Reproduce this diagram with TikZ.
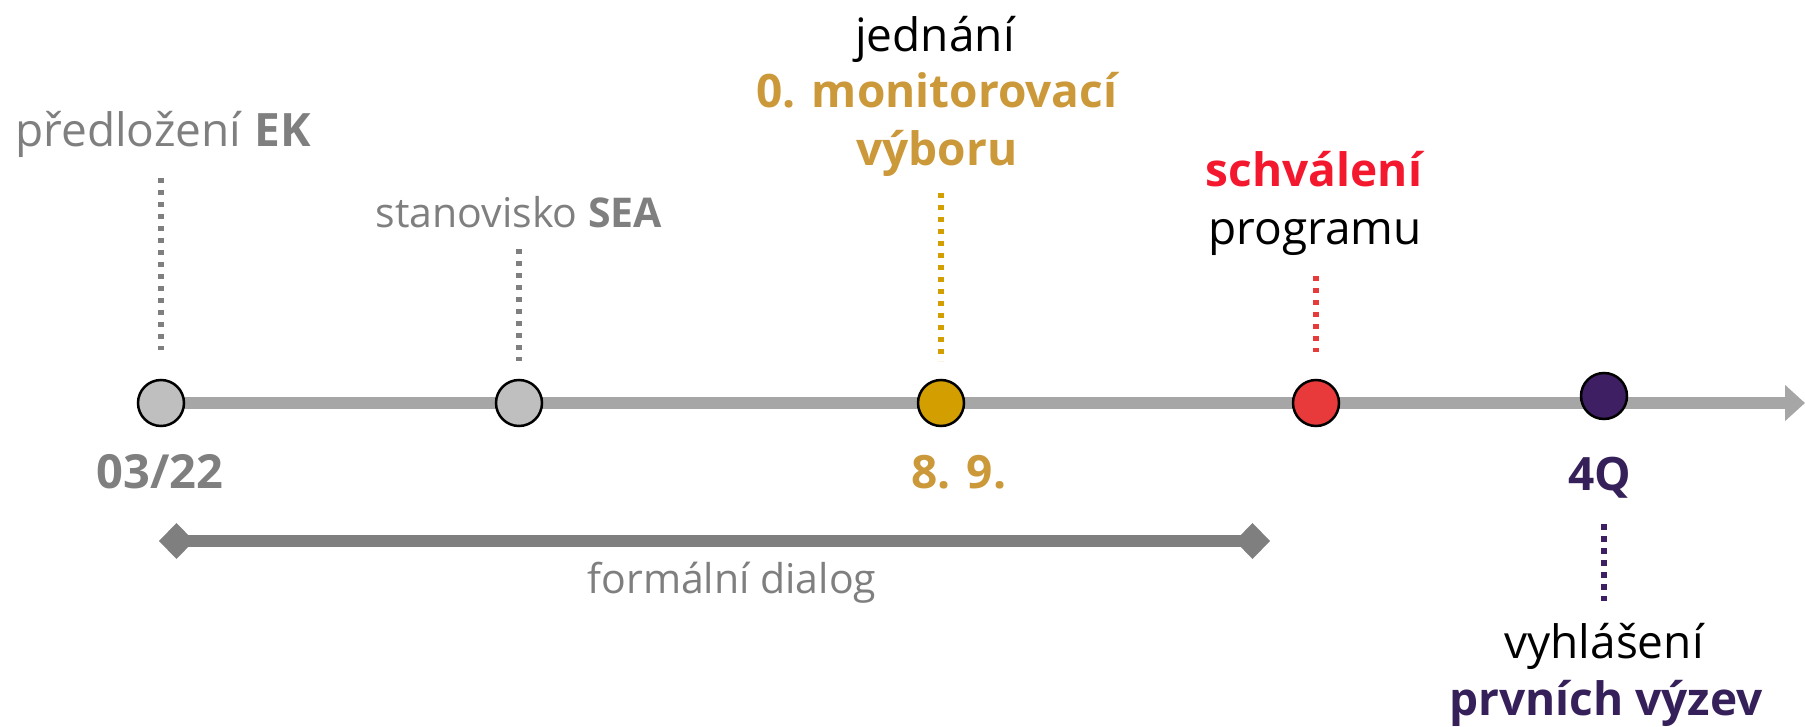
\documentclass[tikz,border=0pt]{standalone}
\usepackage{fontspec}
\setmainfont{Open Sans}
\usetikzlibrary{arrows.meta}
\definecolor{lineg}{HTML}{A6A6A6}
\definecolor{dotg}{HTML}{BFBFBF}
\definecolor{txtg}{HTML}{7F7F7F}
\definecolor{goldf}{HTML}{D29E00}
\definecolor{goldt}{HTML}{CB993A}
\definecolor{redf}{HTML}{E83A3A}
\definecolor{redt}{HTML}{F4182E}
\definecolor{purf}{HTML}{3E1F63}
\definecolor{purt}{HTML}{36205A}
\tikzset{
  evt/.style={circle, draw=black, line width=2.5pt, minimum size=46pt, inner sep=0pt},
  stem/.style={line width=5.5pt, dash pattern=on 5.5pt off 6.5pt},
  lbl/.style={anchor=base, inner sep=0pt, font=\fontsize{46}{57}\selectfont},
  lbls/.style={anchor=base, inner sep=0pt, font=\fontsize{41}{50}\selectfont},
  lblb/.style={anchor=base, inner sep=0pt, font=\fontsize{46}{57}\selectfont\bfseries},
}
\begin{document}
\begin{tikzpicture}[x=1pt,y=-1pt]
\useasboundingbox (0,0) rectangle (1805,727);
% timeline
\coordinate (tend) at (1805,403);
\coordinate (fdL) at (159,541);
\coordinate (fdR) at (1270,541);
\coordinate (tstart) at (161,403);
\draw[lineg, line width=12pt, -{Triangle[length=20pt,width=35pt]}] (tstart) -- (tend);
\node[evt, fill=dotg] (c1) at (161,403) {};
\node[evt, fill=dotg] (c2) at (519,403) {};
\node[evt, fill=goldf] (c3) at (941,403) {};
\node[evt, fill=redf] (c4) at (1316,403) {};
\node[evt, fill=purf] (c5) at (1604,396) {};
% formal dialog
\draw[txtg, line width=12pt, {Diamond[length=35pt,width=36pt]}-{Diamond[length=35pt,width=36pt]}] (fdL) -- (fdR);
\node[lbls, text=txtg] (fd) at (732,593) {formální dialog};
% stems
\coordinate (s1t) at (161,178); \coordinate (s1b) at (161,350);
\coordinate (s2t) at (519,249); \coordinate (s2b) at (519,361);
\coordinate (s3t) at (941,193); \coordinate (s3b) at (941,361);
\coordinate (s4t) at (1316,276); \coordinate (s4b) at (1316,352);
\coordinate (s5t) at (1604,524); \coordinate (s5b) at (1604,601);
\draw[stem, txtg] (s1t) -- (s1b);
\draw[stem, txtg] (s2t) -- (s2b);
\draw[stem, goldf] (s3t) -- (s3b);
\draw[stem, redf] (s4t) -- (s4b);
\draw[stem, purf] (s5t) -- (s5b);
% labels above
\node[lbl, text=txtg] (l1) at (163,147) {předložení \textbf{EK}};
\node[lbls, text=txtg] (l2) at (519,228) {stanovisko \textbf{SEA}};
\node[lbl, text=black] (l3a) at (935,52) {jednání};
\node[lblb, text=goldt] (l3b) at (937,108) {0. monitorovací};
\node[lblb, text=goldt] (l3c) at (937,166) {výboru};
\node[lblb, text=redt] (l4a) at (1314,187) {schválení};
\node[lbl, text=black] (l4b) at (1315,245) {programu};
% dates
\node[lblb, text=txtg, font=\fontsize{47}{50}\selectfont\bfseries] (d1) at (160,488) {03/22};
\node[lblb, text=goldt] (d3) at (959,488) {8. 9.};
\node[lblb, text=purt] (d5) at (1600,490) {4Q};
% below
\node[lbl, text=black] (l5a) at (1604,658) {vyhlášení};
\node[lblb, text=purt] (l5b) at (1606,715) {prvních výzev};
\end{tikzpicture}
\end{document}
